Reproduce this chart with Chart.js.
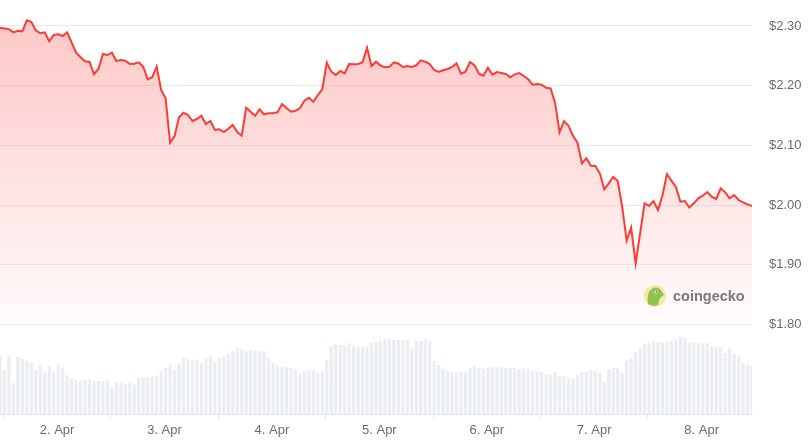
<!DOCTYPE html>
<html>
<head>
<meta charset="utf-8">
<script src="https://cdn.jsdelivr.net/npm/chart.js@4.4.1/dist/chart.umd.min.js"></script>
<style>
html,body{margin:0;padding:0;background:#fff;}
#wrap{width:808px;height:442px;position:relative;}
</style>
</head>
<body>
<div id="wrap"><canvas id="c" width="808" height="442"></canvas></div>
<script>
// Hours since 1 Apr 00:00 of the first sample; one sample per hour
const START_HOUR = 11.25;
const DAY_TICKS = [24, 48, 72, 96, 120, 144, 168];
const DAY_LABELS = ["2. Apr", "3. Apr", "4. Apr", "5. Apr", "6. Apr", "7. Apr", "8. Apr"];
const PRICE_TICKS = [1.80, 1.90, 2.00, 2.10, 2.20, 2.30];

const PRICE = [
2.297,2.296,2.2945,2.2894,2.2921,2.2911,2.3095,2.3067,2.2928,2.2878,
2.2894,2.2744,2.2849,2.2861,2.2832,2.2894,2.2724,2.2553,2.2476,2.2409,
2.2397,2.2191,2.2285,2.2531,2.2514,2.2553,2.2414,2.2430,2.2419,2.2363,
2.2368,2.2392,2.2318,2.2107,2.2141,2.2318,2.1928,2.1789,2.1045,2.1157,
2.1471,2.1548,2.1509,2.1409,2.1442,2.1497,2.1358,2.1409,2.1258,2.1270,
2.1224,2.1280,2.1342,2.1224,2.1162,2.1631,2.1564,2.1497,2.1605,2.1521,
2.1538,2.1543,2.1554,2.1693,2.1626,2.1564,2.1581,2.1621,2.1749,2.1799,
2.1732,2.1844,2.1940,2.2385,2.2235,2.2179,2.2246,2.2208,2.2363,2.2358,
2.2363,2.2392,2.2637,2.2330,2.2402,2.2338,2.2308,2.2318,2.2392,2.2368,
2.2313,2.2330,2.2313,2.2342,2.2425,2.2402,2.2363,2.2263,2.2229,2.2258,
2.2280,2.2313,2.2375,2.2201,2.2235,2.2397,2.2342,2.2201,2.2168,2.2302,
2.2184,2.2229,2.2213,2.2196,2.2141,2.2191,2.2213,2.2162,2.2107,2.2017,
2.2028,2.2017,2.1966,2.1956,2.1715,2.1219,2.1409,2.1330,2.1162,2.1045,
2.0700,2.0784,2.0660,2.0655,2.0533,2.0265,2.0365,2.0476,2.0404,1.9973,
1.9404,1.9621,1.9025,1.9528,2.0030,1.9985,2.0069,1.9918,2.0161,2.0521,
2.0409,2.0303,2.0057,2.0069,1.9960,2.0030,2.0114,2.0157,2.0219,2.0141,
2.0102,2.0281,2.0214,2.0114,2.0169,2.0085,2.0047,2.0013,1.9985
];

// Volume (relative units)
const VOLUME = [
58,44,57,31,57,55,53,51,44,49,
42,48,42,49,46,39,36,34,33,34,
34,33,33,33,34,27,32,31,30,31,
29,36,37,37,38,37.5,43,46,49,44,
51,56,55.5,54,54.5,51,56,58,52.5,56,
58,60,63,66,65,63,64,64,63,62.5,
56,51,48,47,47,46,45,41,43,44.5,
44,41,43,54,68,70,69,69,71,68,
67,67,68,71,72,73,75,75,74,74,
74,74,65,73,73,75,73,53,49,45,
43,42,41,42,42,46,48,46,45,46,
47,47,47,46,46,46,45,46,45,43,
43,42,40,40,42,38,38,36,35,39,
42,42,44,43,41,32,45,46,46,41,
53,56,62,66,70,71,73,72,72,72,
73,74,77,76,72,72,71,71,71,68,
67,67,61,66,60,58,51,49,48
];

const HOURS = PRICE.map((_, i) => START_HOUR + i);
const pricePts = PRICE.map((v, i) => ({x: HOURS[i], y: v}));
const volPts = VOLUME.map((v, i) => ({x: HOURS[i], y: v}));

// Layout constants (pixel geometry of the plot area)
const AREA_TOP = 0, AREA_BOTTOM = 414;
const PX_PER_DOLLAR = 597, Y_OF_230 = 26;
const P_MAX = 2.30 + (Y_OF_230 - AREA_TOP) / PX_PER_DOLLAR;
const P_MIN = 2.30 - (AREA_BOTTOM - Y_OF_230) / PX_PER_DOLLAR;
const V_MAX = AREA_BOTTOM - AREA_TOP;

const watermark = {
  id: 'watermark',
  afterDatasetsDraw(chart) {
    const ctx = chart.ctx;
    ctx.save();
    const cx = 655, cy = 296;
    ctx.beginPath(); ctx.arc(cx, cy, 11, 0, Math.PI * 2);
    ctx.fillStyle = '#f7e8a2'; ctx.fill();
    ctx.beginPath();
    ctx.moveTo(cx - 7, cy + 8);
    ctx.quadraticCurveTo(cx - 9, cy - 4, cx - 2, cy - 8);
    ctx.quadraticCurveTo(cx + 4, cy - 10, cx + 7, cy - 4);
    ctx.lineTo(cx + 9, cy - 1);
    ctx.quadraticCurveTo(cx + 4, cy + 1, cx + 3, cy + 9);
    ctx.quadraticCurveTo(cx - 2, cy + 11, cx - 7, cy + 8);
    ctx.closePath();
    ctx.fillStyle = '#8cc351'; ctx.fill();
    ctx.beginPath(); ctx.arc(cx + 1, cy - 4, 1.6, 0, Math.PI * 2);
    ctx.fillStyle = '#ffffff'; ctx.fill();
    ctx.beginPath(); ctx.arc(cx + 1.3, cy - 4, 0.8, 0, Math.PI * 2);
    ctx.fillStyle = '#333'; ctx.fill();
    ctx.font = 'bold 14.5px "Liberation Sans", Arial, sans-serif';
    ctx.fillStyle = '#7b7b7b';
    ctx.textBaseline = 'alphabetic';
    ctx.fillText('coingecko', 673, 301);
    ctx.restore();
  }
};

function zeroPad(s) { s.paddingTop = 0; s.paddingBottom = 0; s.paddingLeft = 0; s.paddingRight = 0; }

new Chart(document.getElementById('c'), {
  type: 'line',
  data: {
    datasets: [
      {
        type: 'line',
        data: pricePts,
        yAxisID: 'y',
        borderColor: '#ff3a33',
        borderWidth: 2,
        pointRadius: 0,
        tension: 0,
        fill: {value: 1.8},
        backgroundColor(ctx) {
          const ca = ctx.chart.chartArea;
          if (!ca) return 'rgba(255,60,60,0.2)';
          const g = ctx.chart.ctx.createLinearGradient(0, 20, 0, 324);
          g.addColorStop(0, 'rgba(255,70,70,0.30)');
          g.addColorStop(1, 'rgba(255,70,70,0.02)');
          return g;
        },
        order: 1
      },
      {
        type: 'bar',
        data: volPts,
        yAxisID: 'v',
        backgroundColor: '#eaeef3',
        barPercentage: 0.72,
        categoryPercentage: 1,
        order: 2
      }
    ]
  },
  options: {
    responsive: false,
    animation: false,
    layout: {padding: 0},
    plugins: {legend: {display: false}, tooltip: {enabled: false}},
    scales: {
      x: {
        type: 'linear',
        offset: false,
        min: HOURS[0],
        max: HOURS[HOURS.length - 1],
        afterBuildTicks(s) { s.ticks = DAY_TICKS.map(v => ({value: v})); },
        afterFit(s) { s.height = 28; zeroPad(s); },
        ticks: {
          callback(v) { const k = DAY_TICKS.indexOf(v); return k >= 0 ? DAY_LABELS[k] : ''; },
          color: '#666d77',
          font: {family: '"Liberation Sans", Arial, sans-serif', size: 13},
          padding: 4,
          maxRotation: 0,
          autoSkip: false
        },
        grid: {drawOnChartArea: false, drawTicks: true, tickLength: 5, color: '#e3e7ec'},
        border: {display: true, color: '#e3e7ec'}
      },
      y: {
        position: 'right',
        min: P_MIN,
        max: P_MAX,
        afterBuildTicks(s) { s.ticks = PRICE_TICKS.map(v => ({value: v})); },
        afterFit(s) { s.width = 56; zeroPad(s); },
        ticks: {
          callback(v) { return '$' + Number(v).toFixed(2); },
          color: '#666d77',
          font: {family: '"Liberation Sans", Arial, sans-serif', size: 13},
          padding: 17
        },
        grid: {color: '#ebebeb', drawTicks: false},
        border: {display: false}
      },
      v: {
        display: false,
        min: 0,
        max: V_MAX
      }
    }
  },
  plugins: [watermark]
});
</script>
</body>
</html>
